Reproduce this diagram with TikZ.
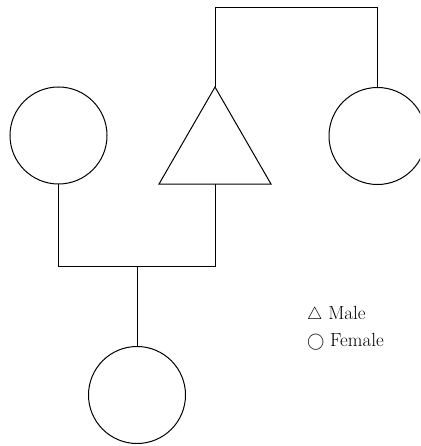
\documentclass[tikz,border=0pt]{standalone}
\usetikzlibrary{shapes.geometric}
\begin{document}
\begin{tikzpicture}[x=1pt,y=-1pt,
  person/.style={draw,line width=1pt,inner sep=0pt,outer sep=0pt},
  female/.style={person,circle,minimum size=97pt},
  male/.style={person,regular polygon,regular polygon sides=3,minimum size=129.3pt},
  link/.style={line width=1pt},
  legend/.style={anchor=base west,inner sep=0pt,font=\fontsize{19}{21}\selectfont}]
\useasboundingbox (0,0) rectangle (420,446);
\clip (0,0) rectangle (420,446);
\node[female] (L) at (58.5,135.5) {};
\node[male] (T) at (215,151.7) {};
\node[female] (R) at (377.5,136) {};
\node[female] (C) at (137,395) {};
\coordinate (t1) at (215,8);
\coordinate (t2) at (377.5,8);
\coordinate (m1) at (58.5,266);
\coordinate (m2) at (215,266);
\coordinate (cm) at (137,266);
\draw[link] (T.north) -- (t1) -- (t2) -- (R.north);
\draw[link] (L.south) -- (m1) -- (m2) -- (T.south);
\draw[link] (cm) -- (C.north);
\node[legend] (lm) at (307,319) {$\triangle$ Male};
\node[legend] (lf) at (307,346) {$\bigcirc$ Female};
\end{tikzpicture}
\end{document}
